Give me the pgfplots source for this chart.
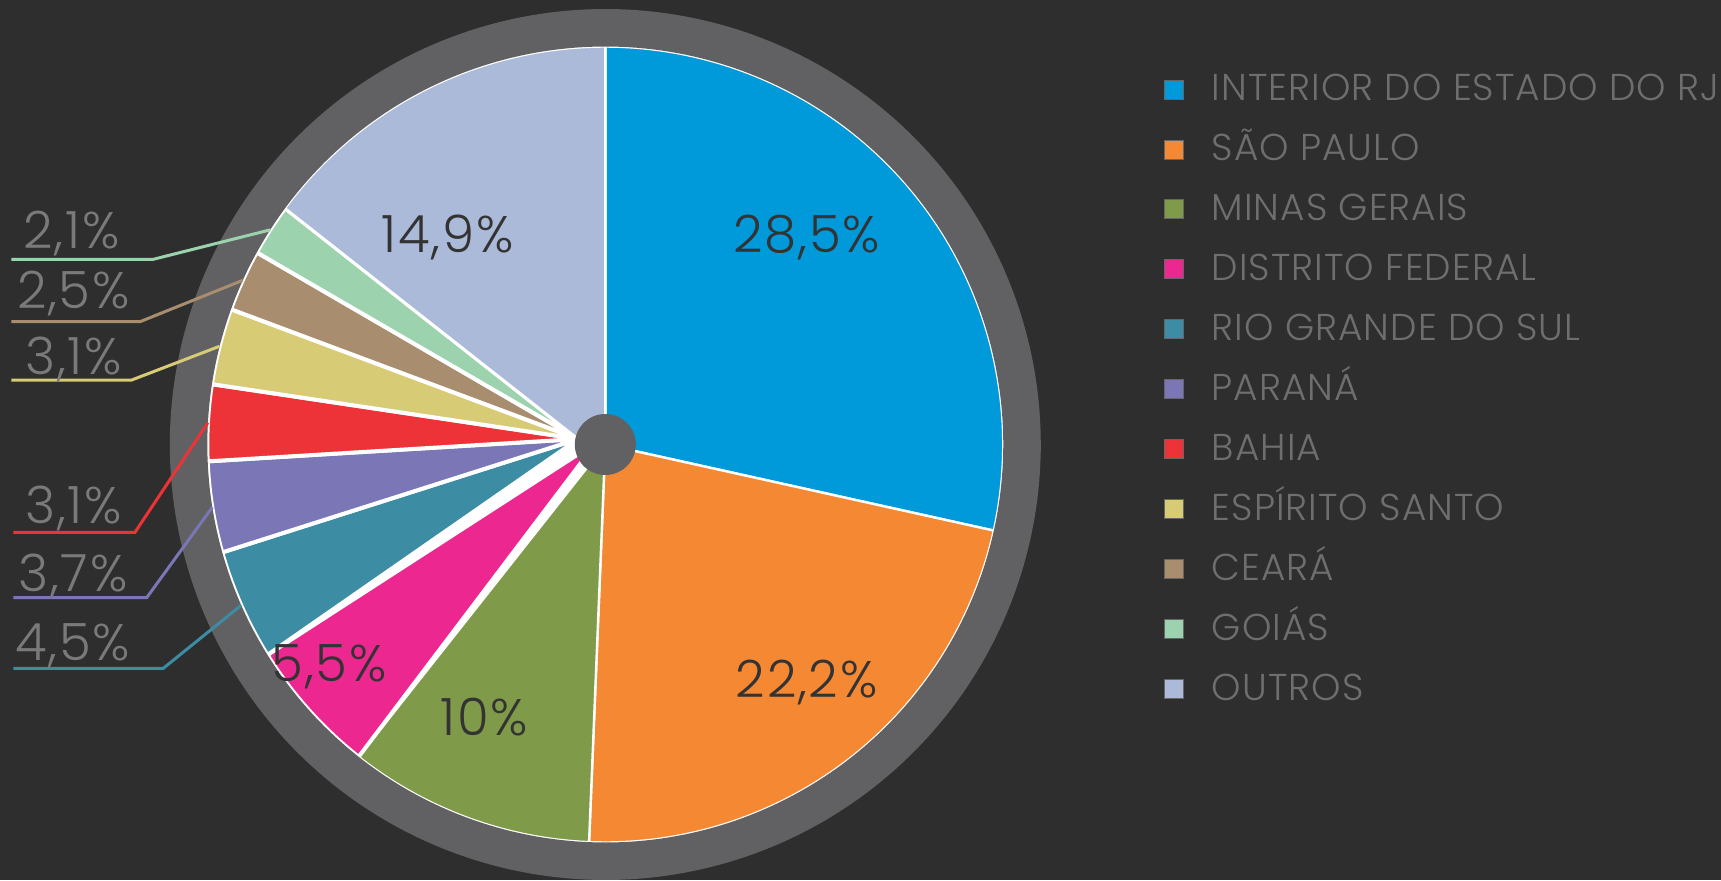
\documentclass[border=0pt]{standalone}
\usepackage{fontspec}
\setmainfont{Poppins}[UprightFont=* Light]
\usepackage{pgfplots}
\pgfplotsset{compat=1.18}
\definecolor{bgc}{HTML}{2E2E2E}
\definecolor{ringc}{HTML}{616163}
\definecolor{legtext}{HTML}{6E6E70}
\definecolor{outtext}{HTML}{7A7A7C}
\definecolor{intext}{HTML}{333333}
\definecolor{cRJ}{HTML}{0099DA}
\definecolor{cSP}{HTML}{F58833}
\definecolor{cMG}{HTML}{7F9A48}
\definecolor{cDF}{HTML}{EC2890}
\definecolor{cRS}{HTML}{3C8DA3}
\definecolor{cPR}{HTML}{7B77B7}
\definecolor{cBA}{HTML}{EE3338}
\definecolor{cES}{HTML}{D8CB76}
\definecolor{cCE}{HTML}{A88E6F}
\definecolor{cGO}{HTML}{9CD3AE}
\definecolor{cOU}{HTML}{AABAD8}
% data (percent)
\def\vRJ{28.5}\def\vSP{22.2}\def\vMG{10}\def\vDF{5.5}\def\vRS{4.5}\def\vPR{3.7}
\def\vBA{3.1}\def\vES{3.1}\def\vCE{2.5}\def\vGO{2.1}\def\vOU{14.9}
\pgfmathsetmacro\tot{\vRJ+\vSP+\vMG+\vDF+\vRS+\vPR+\vBA+\vES+\vCE+\vGO+\vOU}
\pgfmathsetmacro\kf{360/\tot}
\pgfmathsetmacro\aA{90}
\pgfmathsetmacro\aB{\aA-\kf*\vRJ}
\pgfmathsetmacro\aC{\aB-\kf*\vSP}
\pgfmathsetmacro\aD{\aC-\kf*\vMG}
\pgfmathsetmacro\aE{\aD-\kf*\vDF}
\pgfmathsetmacro\aF{\aE-\kf*\vRS}
\pgfmathsetmacro\aG{\aF-\kf*\vPR}
\pgfmathsetmacro\aH{\aG-\kf*\vBA}
\pgfmathsetmacro\aI{\aH-\kf*\vES}
\pgfmathsetmacro\aJ{\aI-\kf*\vCE}
\pgfmathsetmacro\aK{\aJ-\kf*\vGO}
\pgfmathsetmacro\aL{\aK-\kf*\vOU}
\pgfmathsetmacro\mRS{(\aE+\aF)/2}
\pgfmathsetmacro\mPR{(\aF+\aG)/2}
\pgfmathsetmacro\mBA{(\aG+\aH)/2}
\pgfmathsetmacro\mES{(\aH+\aI)/2}
\pgfmathsetmacro\mCE{(\aI+\aJ)/2}
\pgfmathsetmacro\mGO{(\aJ+\aK)/2}
\def\R{398}
\newcommand\lblfont{\fontsize{25.7}{30}\selectfont\addfontfeatures{LetterSpace=3.5}}
\begin{document}
\begin{tikzpicture}
\fill[bgc] (0,0) rectangle (860.5pt,440pt);
\begin{axis}[
  scale only axis, width=860.5pt, height=440pt,
  xmin=-605.3, xmax=1115.7, ymin=-435.5, ymax=444.5,
  hide axis, clip=true,
  legend cell align=left,
  legend image code/.code={\draw[#1, draw=black!60, line width=0.4pt] (0pt,-5.5pt) rectangle (9.5pt,4pt);},
  legend style={at={(rel axis cs:0.6761,0.9148)}, anchor=north west,
    draw=none, fill=none, inner sep=0pt, outer sep=0pt, row sep=16.97pt,
    font=\fontsize{18.7}{22}\selectfont\addfontfeatures{LetterSpace=2.8}, text=legtext,
    nodes={inner sep=0pt, text height=13pt, text depth=0pt},
    /tikz/every odd column/.style={column sep=14.2pt}},
]
% white base disk (shows as separators)
\addplot[fill=white, draw=none, domain=0:360, samples=200, forget plot] ({\R*cos(x)},{\R*sin(x)}) -- cycle;
% slices
\addplot[fill=cRJ, draw=white, line width=1.2pt, domain=\aB:\aA, samples=80] ({\R*cos(x)},{\R*sin(x)}) -- (axis cs:0,0) -- cycle;
\addlegendentry{INTERIOR DO ESTADO DO RJ}
\addplot[fill=cSP, draw=white, line width=1.2pt, domain=\aC:\aB, samples=80] ({\R*cos(x)},{\R*sin(x)}) -- (axis cs:0,0) -- cycle;
\addlegendentry{SÃO PAULO}
\addplot[fill=cMG, draw=white, line width=1.2pt, domain=\aD:\aC, samples=50] ({\R*cos(x)},{\R*sin(x)}) -- (axis cs:0,0) -- cycle;
\addlegendentry{MINAS GERAIS}
\addplot[fill=cDF, draw=white, line width=2pt, domain=\aE:\aD, samples=40] ({\R*cos(x)},{\R*sin(x)}) -- (axis cs:-9,2) -- cycle;
\addlegendentry{DISTRITO FEDERAL}
\addplot[fill=cRS, draw=white, line width=2pt, domain=\aF:\aE, samples=40] ({\R*cos(x)},{\R*sin(x)}) -- (axis cs:-27,5.5) -- cycle;
\addlegendentry{RIO GRANDE DO SUL}
\addplot[fill=cPR, draw=white, line width=2pt, domain=\aG:\aF, samples=40] ({\R*cos(x)},{\R*sin(x)}) -- (axis cs:-27,5.5) -- cycle;
\addlegendentry{PARANÁ}
\addplot[fill=cBA, draw=white, line width=2pt, domain=\aH:\aG, samples=40] ({\R*cos(x)},{\R*sin(x)}) -- (axis cs:-27,5.5) -- cycle;
\addlegendentry{BAHIA}
\addplot[fill=cES, draw=white, line width=2pt, domain=\aI:\aH, samples=40] ({\R*cos(x)},{\R*sin(x)}) -- (axis cs:-27,5.5) -- cycle;
\addlegendentry{ESPÍRITO SANTO}
\addplot[fill=cCE, draw=white, line width=2pt, domain=\aJ:\aI, samples=40] ({\R*cos(x)},{\R*sin(x)}) -- (axis cs:-27,5.5) -- cycle;
\addlegendentry{CEARÁ}
\addplot[fill=cGO, draw=white, line width=2pt, domain=\aK:\aJ, samples=40] ({\R*cos(x)},{\R*sin(x)}) -- (axis cs:-27,5.5) -- cycle;
\addlegendentry{GOIÁS}
\addplot[fill=cOU, draw=white, line width=1.2pt, domain=\aL:\aK, samples=60] ({\R*cos(x)},{\R*sin(x)}) -- (axis cs:-27,5.5) -- (axis cs:0,0) -- cycle;
\addlegendentry{OUTROS}
% outer ring
\addplot[draw=ringc, line width=18.75pt, domain=0:360, samples=300, forget plot] ({416.75*cos(x)},{416.75*sin(x)}) -- cycle;
% centre dot
\addplot[fill=ringc, draw=none, domain=0:360, samples=100, forget plot] ({30.5*cos(x)},{30.5*sin(x)}) -- cycle;
% leader lines
\draw[cGO, line width=1.5pt] (axis cs:-594,185.2) -- (axis cs:-452,185.2) -- (axis cs:{\R*cos(\mGO)},{\R*sin(\mGO)});
\draw[cCE, line width=1.5pt] (axis cs:-594,122.8) -- (axis cs:-465.3,122.8) -- (axis cs:{\R*cos(\mCE)},{\R*sin(\mCE)});
\draw[cES, line width=1.5pt] (axis cs:-594,64.5) -- (axis cs:-473.6,64.5) -- (axis cs:{\R*cos(\mES)},{\R*sin(\mES)});
\draw[cBA, line width=1.5pt] (axis cs:-592,-87.8) -- (axis cs:-470.3,-87.8) -- (axis cs:{\R*cos(\mBA)},{\R*sin(\mBA)});
\draw[cPR, line width=1.5pt] (axis cs:-592,-153.2) -- (axis cs:-458.6,-153.2) -- (axis cs:{\R*cos(\mPR)},{\R*sin(\mPR)});
\draw[cRS, line width=1.5pt] (axis cs:-592,-223.8) -- (axis cs:-442,-223.8) -- (axis cs:{\R*cos(\mRS)},{\R*sin(\mRS)});
% outer labels
\begin{scope}[every node/.style={inner sep=0pt, anchor=base west, text=outtext, font=\lblfont}]
\node at (axis cs:-582,196.2) {2,1\%};
\node at (axis cs:-588.6,136.2) {2,5\%};
\node at (axis cs:-580.3,70.5) {3,1\%};
\node at (axis cs:-580.3,-78.8) {3,1\%};
\node at (axis cs:-587.3,-147.2) {3,7\%};
\node at (axis cs:-590.3,-215.5) {4,5\%};
\end{scope}
% inner labels
\begin{scope}[every node/.style={inner sep=0pt, anchor=base, text=intext, font=\lblfont}]
\node at (axis cs:201.4,192.1) {28,5\%};
\node at (axis cs:201.4,-252.5) {22,2\%};
\node at (axis cs:-121.3,-290.9) {10\%};
\node at (axis cs:-276,-237.1) {5,5\%};
\node at (axis cs:-158,192.1) {14,9\%};
\end{scope}
\end{axis}
\end{tikzpicture}
\end{document}
